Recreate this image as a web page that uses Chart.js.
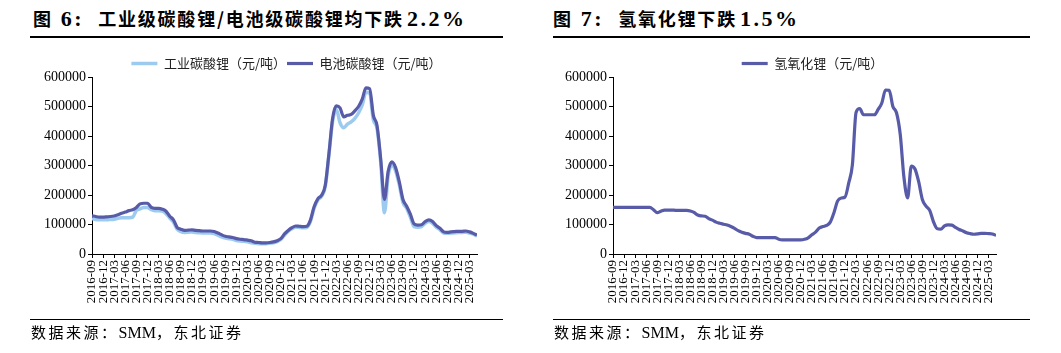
<!DOCTYPE html>
<html>
<head>
<meta charset="utf-8">
<script src="https://cdn.jsdelivr.net/npm/chart.js"></script>
<style>
  body { margin: 0; background: #fff; }
  #page { position: relative; width: 1061px; height: 353px; overflow: hidden; font-family: "Noto Sans CJK SC", sans-serif; color: #000; }
  .title { position: absolute; top: 4px; font-size: 18px; font-weight: bold; letter-spacing: 1.8px; line-height: 28px; white-space: nowrap; }
  .num { font-family: "Liberation Serif", serif; font-size: 22px; font-weight: bold; letter-spacing: 2.5px; }
  .rule { position: absolute; background: #000; }
  .src { position: absolute; top: 322px; font-size: 15px; letter-spacing: 2.5px; line-height: 20px; white-space: nowrap; }
  .src .lat { font-family: "Liberation Serif", serif; letter-spacing: 0; font-size: 16px; }
  canvas { position: absolute; top: 44px; }
</style>
</head>
<body>
<div id="page">
  <div class="title" style="left:33px"><span>图</span><span class="num" style="margin-left:8px">6:</span><span style="margin-left:14px">工业级碳酸锂/电池级碳酸锂均下跌</span><span class="num" style="margin-left:3px">2.2%</span></div>
  <div class="rule" style="left:30px;width:473px;top:36px;height:2px"></div>
  <canvas id="lc" width="473" height="276" style="left:30px"></canvas>
  <div class="rule" style="left:30px;width:473px;top:319px;height:1px"></div>
  <div class="src" style="left:31px">数据来源：<span class="lat">SMM</span>，东北证券</div>

  <div class="title" style="left:553px"><span>图</span><span class="num" style="margin-left:8px">7:</span><span style="margin-left:14px">氢氧化锂下跌</span><span class="num" style="margin-left:3px">1.5%</span></div>
  <div class="rule" style="left:553px;width:477px;top:36px;height:2px"></div>
  <canvas id="hc" width="477" height="276" style="left:553px"></canvas>
  <div class="rule" style="left:553px;width:477px;top:319px;height:1px"></div>
  <div class="src" style="left:554px">数据来源：<span class="lat">SMM</span>，东北证券</div>
</div>

<script>
// months, 2016-09 .. 2025-05
const months = [
  '2016-09','2016-10','2016-11','2016-12',
  '2017-01','2017-02','2017-03','2017-04','2017-05','2017-06','2017-07','2017-08','2017-09','2017-10','2017-11','2017-12',
  '2018-01','2018-02','2018-03','2018-04','2018-05','2018-06','2018-07','2018-08','2018-09','2018-10','2018-11','2018-12',
  '2019-01','2019-02','2019-03','2019-04','2019-05','2019-06','2019-07','2019-08','2019-09','2019-10','2019-11','2019-12',
  '2020-01','2020-02','2020-03','2020-04','2020-05','2020-06','2020-07','2020-08','2020-09','2020-10','2020-11','2020-12',
  '2021-01','2021-02','2021-03','2021-04','2021-05','2021-06','2021-07','2021-08','2021-09','2021-10','2021-11','2021-12',
  '2022-01','2022-02','2022-03','2022-04','2022-05','2022-06','2022-07','2022-08','2022-09','2022-10','2022-11','2022-12',
  '2023-01','2023-02','2023-03','2023-04','2023-05','2023-06','2023-07','2023-08','2023-09','2023-10','2023-11','2023-12',
  '2024-01','2024-02','2024-03','2024-04','2024-05','2024-06','2024-07','2024-08','2024-09','2024-10','2024-11','2024-12',
  '2025-01','2025-02','2025-03','2025-04','2025-05'
];

// 工业碳酸锂 (元/吨)
const industrial = [
  120000,117000,116000,116000,
  116000,117000,118000,121000,123000,123000,123000,125000,148000,153000,158000,158000,
  150000,147000,147000,145000,137000,122000,108000,84000,76000,73000,74000,75000,
  73000,72000,71000,71000,71000,69000,64000,58000,54000,52000,50000,46000,
  44000,43000,41000,38000,36000,35000,35000,35000,36000,38000,42000,49000,
  64000,77000,86000,91000,90000,89000,90000,110000,155000,183000,195000,227000,
  335000,450000,490000,445000,428000,440000,448000,460000,478000,505000,548000,545000,
  455000,425000,310000,140000,265000,300000,282000,235000,175000,155000,125000,93000,
  91000,93000,104000,110000,104000,91000,82000,71000,70000,71000,72000,73000,
  73000,74000,71000,67000,61000
];

// 电池碳酸锂 (元/吨)
const battery = [
  130000,127000,125000,125000,
  126000,127000,129000,133000,138000,142000,147000,150000,158000,170000,172000,172000,
  158000,155000,155000,152000,145000,128000,116000,90000,84000,80000,81000,82000,
  80000,79000,78000,78000,78000,76000,71000,65000,60000,58000,56000,52000,
  50000,49000,47000,45000,40000,39000,38000,38000,39000,41000,45000,52000,
  68000,80000,89000,95000,94000,93000,94000,115000,160000,187000,199000,232000,
  340000,460000,502000,495000,465000,470000,473000,485000,500000,525000,563000,560000,
  470000,435000,320000,185000,280000,312000,293000,245000,185000,162000,135000,102000,
  98000,99000,110000,116000,110000,96000,87000,75000,73000,75000,76000,77000,
  77000,78000,75000,70000,64000
];

// 氢氧化锂 (元/吨)
const hydroxide = [
  158000,158000,158000,158000,
  158000,158000,158000,158000,158000,158000,158000,150000,140000,145000,149000,149000,
  149000,148000,148000,148000,148000,146000,141000,132000,129000,128000,120000,115000,
  108000,104000,101000,98000,93000,87000,79000,74000,70000,67000,60000,55500,
  55500,55500,55500,55500,55500,50000,48000,48000,48000,48000,48000,48000,
  50000,55000,65000,74000,88000,93000,97000,108000,140000,180000,190000,193000,
  240000,302000,480000,493000,472000,472000,472000,472000,490000,512000,556000,555000,
  500000,478000,405000,260000,190000,298000,288000,245000,185000,162000,148000,110000,
  86000,84000,95000,99000,98000,90000,83000,78000,72000,69000,67000,68000,
  70000,70000,69000,68000,63000
];

const yTicks = [0, 100000, 200000, 300000, 400000, 500000, 600000];

const darkBlue = '#585BA7';
const lightBlue = '#9DCAEF';
const serif = '"Liberation Serif", "Times New Roman", serif';

function pts(values) {
  return values.map((v, i) => ({ x: i, y: v }));
}

function makeChart(id, datasets, yWidth, padRight, legendShift, xHeight) {
  return new Chart(document.getElementById(id), {
    type: 'line',
    data: { datasets: datasets },
    plugins: [{
      // nudge the legend without moving the plot area
      id: 'legendShift',
      afterLayout(chart) {
        chart.legend.left += legendShift;
        chart.legend.right += legendShift;
        chart.legend.top += 3;
        chart.legend.bottom += 3;
      }
    }],
    options: {
      responsive: false,
      animation: false,
      layout: { padding: { top: 9, right: padRight, bottom: 66 - xHeight, left: 0 } },
      elements: { point: { radius: 0 }, line: { cubicInterpolationMode: 'monotone' } },
      plugins: {
        tooltip: { enabled: false },
        legend: {
          position: 'top',
          fullSize: false,
          labels: {
            usePointStyle: true,
            pointStyle: 'line',
            pointStyleWidth: 26,
            boxHeight: 12,
            padding: 1,
            color: '#222',
            font: { family: '"Noto Sans CJK SC"', size: 13 },
            sort: (a, b) => a.datasetIndex - b.datasetIndex
          }
        }
      },
      scales: {
        x: {
          type: 'linear',
          min: 0,
          max: months.length - 1,
          afterFit: (axis) => { axis.height = xHeight; },
          grid: { drawOnChartArea: false, drawTicks: true, tickLength: 4, color: '#000' },
          border: { color: '#000', width: 1 },
          ticks: {
            stepSize: 3,
            includeBounds: false,
            autoSkip: false,
            minRotation: 90,
            maxRotation: 90,
            padding: 2,
            color: '#000',
            font: { family: serif, size: 13 },
            callback: (v) => months[v]
          }
        },
        y: {
          min: 0,
          max: 600000,
          afterFit: (axis) => { axis.width = yWidth; },
          afterBuildTicks: (axis) => { axis.ticks = yTicks.map(v => ({ value: v })); },
          grid: { drawOnChartArea: false, drawTicks: true, tickLength: 4, color: '#000' },
          border: { color: '#000', width: 1 },
          ticks: {
            padding: 2,
            color: '#000',
            font: { family: serif, size: 14 },
            callback: (v) => String(v)
          }
        }
      }
    }
  });
}

makeChart('lc', [
  { label: '工业碳酸锂（元/吨）', data: pts(industrial), borderColor: lightBlue, backgroundColor: lightBlue, borderWidth: 3.5, order: 1 },
  { label: '电池碳酸锂（元/吨）', data: pts(battery), borderColor: darkBlue, backgroundColor: darkBlue, borderWidth: 3.2, order: 0 }
], 62, 26, 2, 50);

makeChart('hc', [
  { label: '氢氧化锂（元/吨）', data: pts(hydroxide), borderColor: darkBlue, backgroundColor: darkBlue, borderWidth: 3.2 }
], 60, 34, 8, 49);
</script>
</body>
</html>
